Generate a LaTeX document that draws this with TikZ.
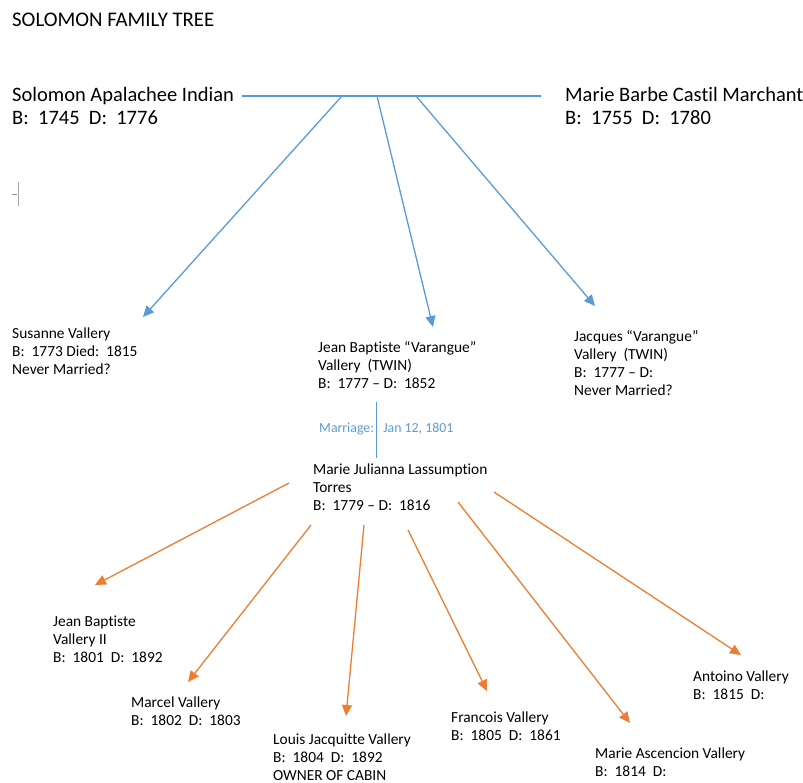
\documentclass[tikz,border=0pt]{standalone}
\usepackage{fontspec}
\setmainfont[Ligatures=NoCommon]{Carlito}
\usetikzlibrary{arrows.meta}
\definecolor{lineblue}{HTML}{5B9BD5}
\definecolor{lineorange}{HTML}{ED7D31}
\begin{document}
\begin{tikzpicture}[x=1pt,y=-1pt,
  big/.style={anchor=north west,inner sep=0pt,align=left,font=\fontsize{20.5}{23}\selectfont},
  small/.style={anchor=north west,inner sep=0pt,align=left,font=\fontsize{15.4}{18}\selectfont},
  blueline/.style={draw=lineblue,line width=1.3pt},
  bluearrow/.style={blueline,-{Triangle[length=11pt,width=10pt]}},
  orangearrow/.style={draw=lineorange,line width=1.3pt,-{Triangle[length=11pt,width=10pt]}}]
\useasboundingbox (0,0) rectangle (803,783);
% title
\node[anchor=north west,inner sep=0pt,font=\fontsize{20.8}{23}\selectfont] (title) at (12,13.2) {SOLOMON FAMILY TREE};
% parents
\node[big] (solomon) at (12,87) {Solomon Apalachee Indian\\B:~~1745~~D:~~1776};
\node[big] (marieb) at (565,87) {Marie Barbe Castil Marchant\\B:~~1755~~D:~~1780};
% cursor mark
\draw[gray!70,line width=0.8pt] (18,182) -- (18,206);
\draw[gray!90,line width=1pt] (12,195) -- (17,195);
% children of first generation
\node[small] (susanne) at (12,327.3) {Susanne Vallery\\B:~~1773 Died:~~1815\\Never Married?};
\node[small] (jeanb) at (318,341.3) {Jean Baptiste “Varangue”\\Vallery~~(TWIN)\\B:~~1777 – D:~~1852};
\node[small] (jacques) at (574,330.3) {Jacques “Varangue”\\Vallery~~(TWIN)\\B:~~1777 – D:\\Never Married?};
\node[small] (julianna) at (313,463.3) {Marie Julianna Lassumption\\Torres\\B:~~1779 – D:~~1816};
% marriage
\coordinate (mtop) at (376,402);
\coordinate (mbot) at (376,458);
\draw[blueline,line width=1pt] (mtop) -- (mbot);
\node[anchor=west,inner sep=0pt,text=lineblue,font=\fontsize{13.8}{16}\selectfont] (marriage) at (319,429) {Marriage:~~~Jan 12, 1801};
% parent line
\coordinate (hl) at (242,96);
\coordinate (hr) at (541,96);
\coordinate (b1) at (342,96);
\coordinate (b2) at (377,96);
\coordinate (b3) at (416,96);
\coordinate (t1) at (143,317);
\coordinate (t2) at (433,327);
\coordinate (t3) at (595,306);
\draw[blueline] (hl) -- (hr);
\draw[bluearrow] (b1) -- (t1);
\draw[bluearrow] (b2) -- (t2);
\draw[bluearrow] (b3) -- (t3);
% grandchildren
\node[small] (jb2) at (53,615.3) {Jean Baptiste\\Vallery II\\B:~~1801~~D:~~1892};
\node[small] (marcel) at (131,696.3) {Marcel Vallery\\B:~~1802~~D:~~1803};
\node[small] (louis) at (273,733.3) {Louis Jacquitte Vallery\\B:~~1804~~D:~~1892\\OWNER OF CABIN};
\node[small] (francois) at (451,711.3) {Francois Vallery\\B:~~1805~~D:~~1861};
\node[small] (ascencion) at (595,747.3) {Marie Ascencion Vallery\\B:~~1814~~D:};
\node[small] (antoino) at (693,670.3) {Antoino Vallery\\B:~~1815~~D:};
% orange arrows
\coordinate (o1s) at (289,483); \coordinate (o1e) at (95,585);
\coordinate (o2s) at (311,525); \coordinate (o2e) at (188,682);
\coordinate (o3s) at (364,525); \coordinate (o3e) at (346,716);
\coordinate (o4s) at (408,530); \coordinate (o4e) at (487,691);
\coordinate (o5s) at (458,502); \coordinate (o5e) at (630,723);
\coordinate (o6s) at (494,492); \coordinate (o6e) at (741,655);
\draw[orangearrow] (o1s) -- (o1e);
\draw[orangearrow] (o2s) -- (o2e);
\draw[orangearrow] (o3s) -- (o3e);
\draw[orangearrow] (o4s) -- (o4e);
\draw[orangearrow] (o5s) -- (o5e);
\draw[orangearrow] (o6s) -- (o6e);
\end{tikzpicture}
\end{document}
